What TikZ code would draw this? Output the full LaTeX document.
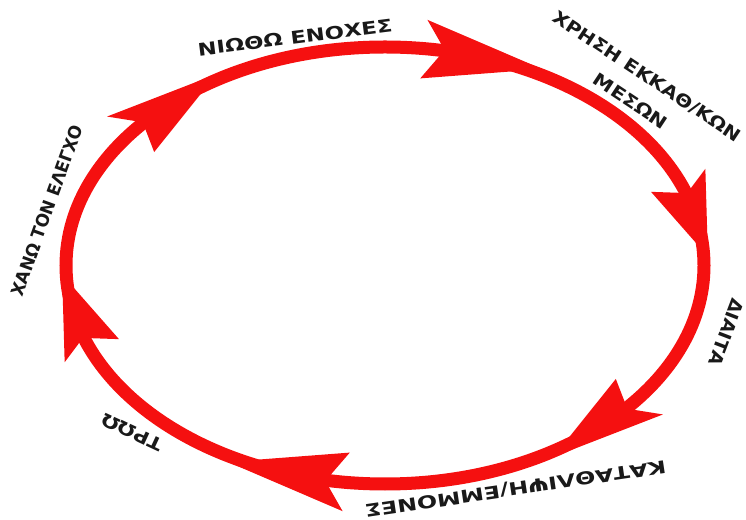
\documentclass[tikz,border=0pt]{standalone}
\usepackage{fontspec}
\usepackage{graphicx}
\newfontfamily\gk{DejaVu Sans}
\definecolor{ringred}{RGB}{245,16,16}
\definecolor{txt}{RGB}{25,25,25}
\tikzset{
  ring/.style={draw=ringred, line width=13pt},
  headfill/.style={fill=ringred},
  lbl/.style={inner sep=0pt, outer sep=0pt, text=txt, font=\gk\bfseries\fontsize{12}{30}\selectfont, align=center}
}
\begin{document}
\begin{tikzpicture}[x=1pt,y=1pt]
\useasboundingbox (0,0) rectangle (746,519);
\begin{scope}[shift={(385,253.5)}]
  \coordinate (c) at (0,0);
  \draw[ring] (c) ellipse [x radius=319, y radius=218.5];
  \foreach \t in {83,23,-37,-97,-157,-217}{
    \pgfmathsetmacro\ta{\t-3}
    \pgfmathsetmacro\tb{\t-17}
    \pgfmathsetmacro\tc{\t-28}
    \fill[headfill] (\t:348 and 247.5) -- (\ta:325 and 224.5) -- (\ta:313 and 212.5)
      -- (\t:289 and 188.5) -- (\tb:313 and 212.5) -- (\tc:325 and 224.5) -- cycle;
  }
\end{scope}
\node[lbl, rotate=7.2] (guilt) at (295,481.5) {\resizebox{196pt}{13pt}{ΝΙΩΘΩ ΕΝΟΧΕΣ}};
\node[lbl, rotate=-33.5] (purge) at (639,430.5) {\resizebox{221pt}{13pt}{ΧΡΗΣΗ ΕΚΚΑΘ/ΚΩΝ}\\\resizebox{85pt}{13pt}{ΜΕΣΩΝ}};
\node[lbl, rotate=-110.9] (diet) at (726.5,186.5) {\resizebox{70pt}{13pt}{ΔΙΑΙΤΑ}};
\node[lbl, rotate=-171.5] (depr) at (515.5,30.5) {\resizebox{304pt}{13pt}{ΚΑΤΑΘΛΙΨΗ/ΕΜΜΟΝΕΣ}};
\node[lbl, rotate=155] (eat) at (132.5,86.5) {\resizebox{65pt}{13pt}{ΤΡΩΩ}};
\node[lbl, rotate=70.1] (lose) at (47,308.5) {\resizebox{180pt}{13pt}{ΧΑΝΩ ΤΟΝ ΕΛΕΓΧΟ}};
\end{tikzpicture}
\end{document}
